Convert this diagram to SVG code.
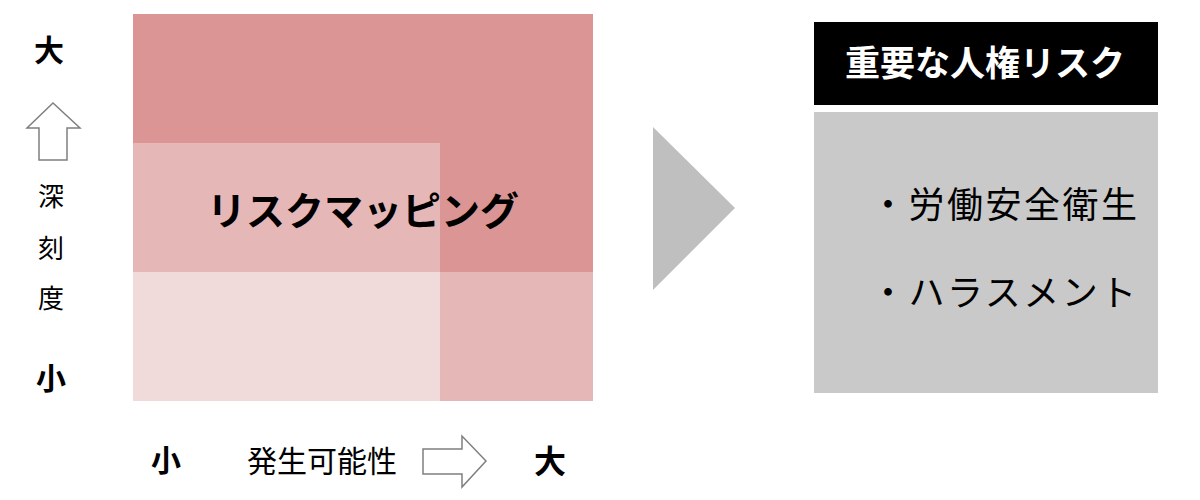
<svg xmlns="http://www.w3.org/2000/svg" width="1200" height="500" viewBox="0 0 1200 500">
<style>
text{font-family:"Noto Sans CJK JP","Noto Sans",sans-serif;fill:#000}
.b{font-weight:bold}
.ax{stroke:#7F7F7F;stroke-width:1.5;fill:#fff}
</style>
<rect width="1200" height="500" fill="#fff"/>
<g id="matrix">
<rect x="133" y="14" width="460" height="258" fill="#DA9594"/>
<rect x="133" y="143" width="307" height="129" fill="#E6B7B7"/>
<rect x="440" y="272" width="153" height="129" fill="#E6B7B7"/>
<rect x="133" y="272" width="307" height="129" fill="#F0DADA"/>
<text class="b" x="363" y="225" font-size="39" text-anchor="middle">リスクマッピング</text>
</g>
<g id="y-axis">
<text class="b" x="49" y="61" font-size="30" text-anchor="middle">大</text>
<path class="ax" d="M53,103 L80,128 L67,128 L67,160 L39,160 L39,128 L27,128 Z"/>
<text x="51" y="206" font-size="26" text-anchor="middle">深</text>
<text x="51" y="258" font-size="26" text-anchor="middle">刻</text>
<text x="51" y="308" font-size="26" text-anchor="middle">度</text>
<text class="b" x="51" y="389" font-size="30" text-anchor="middle">小</text>
</g>
<g id="x-axis">
<text class="b" x="166" y="471" font-size="30" text-anchor="middle">小</text>
<text x="247" y="472" font-size="30">発生可能性</text>
<path class="ax" d="M423,449 L462,449 L462,436 L486,461 L462,487 L462,474 L423,474 Z"/>
<text class="b" x="550" y="473" font-size="32" text-anchor="middle">大</text>
</g>
<g id="connectors">
<path d="M653,127 L735,208 L653,290 Z" fill="#BFBFBF"/>
</g>
<g id="risk-title">
<rect x="814" y="22" width="344" height="83" fill="#000"/>
<text class="b" x="985" y="76" font-size="35" text-anchor="middle" style="fill:#fff">重要な人権リスク</text>
</g>
<g id="risk-list">
<rect x="814" y="112" width="344" height="281" fill="#C9C9C9"/>
<text x="870" y="218" font-size="36" letter-spacing="2.5">・労働安全衛生</text>
<text x="870" y="306" font-size="36" letter-spacing="2.5">・ハラスメント</text>
</g>
</svg>
